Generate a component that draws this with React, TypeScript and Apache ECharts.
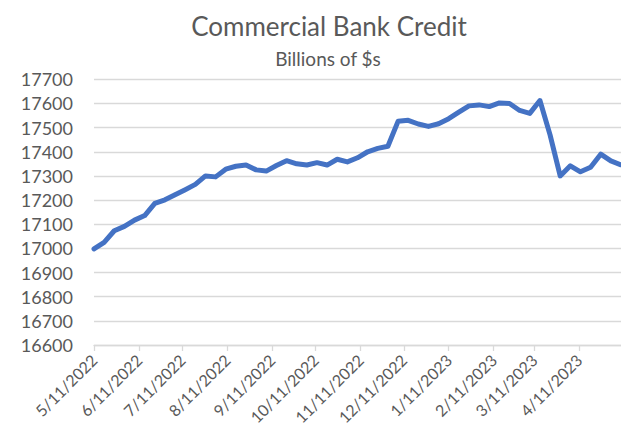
import React, { useEffect, useRef } from "react";
import * as echarts from "echarts";

const weekDates: string[] = [
  "2022-05-11", "2022-05-18", "2022-05-25", "2022-06-01", "2022-06-08", "2022-06-15",
  "2022-06-22", "2022-06-29", "2022-07-06", "2022-07-13", "2022-07-20", "2022-07-27",
  "2022-08-03", "2022-08-10", "2022-08-17", "2022-08-24", "2022-08-31", "2022-09-07",
  "2022-09-14", "2022-09-21", "2022-09-28", "2022-10-05", "2022-10-12", "2022-10-19",
  "2022-10-26", "2022-11-02", "2022-11-09", "2022-11-16", "2022-11-23", "2022-11-30",
  "2022-12-07", "2022-12-14", "2022-12-21", "2022-12-28", "2023-01-04", "2023-01-11",
  "2023-01-18", "2023-01-25", "2023-02-01", "2023-02-08", "2023-02-15", "2023-02-22",
  "2023-03-01", "2023-03-08", "2023-03-15", "2023-03-22", "2023-03-29", "2023-04-05",
  "2023-04-12", "2023-04-19", "2023-04-26", "2023-05-03", "2023-05-10",
];

const creditValues: number[] = [
  16998, 17025, 17073, 17091, 17117, 17136,
  17186, 17201, 17222, 17243, 17265, 17300,
  17296, 17328, 17340, 17345, 17325, 17320,
  17343, 17363, 17350, 17345, 17355, 17345,
  17369, 17358, 17375, 17400, 17414, 17423,
  17526, 17530, 17515, 17505, 17516, 17537,
  17564, 17590, 17594, 17587, 17602, 17600,
  17571, 17559, 17612, 17470, 17300, 17342,
  17317, 17336, 17390, 17362, 17346,
];

const tickLabels: string[] = [
  "5/11/2022", "6/11/2022", "7/11/2022", "8/11/2022", "9/11/2022", "10/11/2022",
  "11/11/2022", "12/11/2022", "1/11/2023", "2/11/2023", "3/11/2023", "4/11/2023",
];

const chartTitle = "Commercial Bank Credit";
const chartSubtitle = "Billions of $s";
const yMin = 16600;
const yMax = 17700;
const yStep = 100;

const FONT = "Lato, 'Open Sans', sans-serif";
const TEXT = "#595959";
const GRID = "#d9d9d9";
const DAY = 86400000;

function isoToDay(s: string): number {
  const [y, m, d] = s.split("-").map(Number);
  return Math.round(Date.UTC(y, m - 1, d) / DAY);
}
function labelToDay(s: string): number {
  const [m, d, y] = s.split("/").map(Number);
  return Math.round(Date.UTC(y, m - 1, d) / DAY);
}

export default function App() {
  const ref = useRef<HTMLDivElement>(null);
  useEffect(() => {
    if (!ref.current) return;
    const chart = echarts.init(ref.current, null, { renderer: "svg" });
    const tickDays = tickLabels.map(labelToDay);
    const labelMap: Record<number, string> = {};
    tickDays.forEach((t, i) => (labelMap[t] = tickLabels[i]));
    const xs = weekDates.map(isoToDay);
    chart.setOption({
      animation: false,
      backgroundColor: "#ffffff",
      graphic: [
        {
          type: "text",
          style: {
            text: chartTitle,
            x: 329,
            y: 25.5,
            align: "center",
            verticalAlign: "middle",
            font: `26px ${FONT}`,
            fill: TEXT,
          },
        },
        {
          type: "text",
          style: {
            text: chartSubtitle,
            x: 328,
            y: 58.5,
            align: "center",
            verticalAlign: "middle",
            font: `19px ${FONT}`,
            fill: TEXT,
          },
        },
      ],
      grid: {
        left: 94,
        right: 0,
        top: 79.3,
        bottom: 87,
        containLabel: false,
        outerBoundsMode: "none",
      },
      xAxis: {
        type: "value",
        min: xs[0],
        max: xs[xs.length - 1],
        axisLine: { show: true, lineStyle: { color: GRID, width: 1.3 } },
        axisTick: {
          show: true,
          customValues: tickDays,
          length: 6,
          lineStyle: { color: GRID, width: 1.3 },
        },
        axisLabel: {
          show: true,
          customValues: tickDays,
          rotate: 45,
          margin: 12,
          color: TEXT,
          fontFamily: FONT,
          fontSize: 16,
          formatter: (v: number) => labelMap[Math.round(v)] ?? "",
        },
        splitLine: { show: false },
      },
      yAxis: {
        type: "value",
        min: yMin,
        max: yMax,
        interval: yStep,
        axisLine: { show: false },
        axisTick: { show: false },
        axisLabel: {
          color: TEXT,
          fontFamily: FONT,
          fontSize: 18,
          margin: 21,
          formatter: (v: number) => String(v),
        },
        splitLine: { show: true, lineStyle: { color: GRID, width: 1.3 } },
      },
      series: [
        {
          type: "line",
          data: xs.map((x, i) => [x, creditValues[i]]),
          showSymbol: false,
          symbol: "none",
          lineStyle: { color: "#4472C4", width: 5, cap: "round", join: "round" },
          itemStyle: { color: "#4472C4" },
        },
      ],
    });
    return () => chart.dispose();
  }, []);
  return (
    <div
      ref={ref}
      style={{ position: "fixed", left: 0, top: 0, width: 621, height: 432 }}
    />
  );
}
